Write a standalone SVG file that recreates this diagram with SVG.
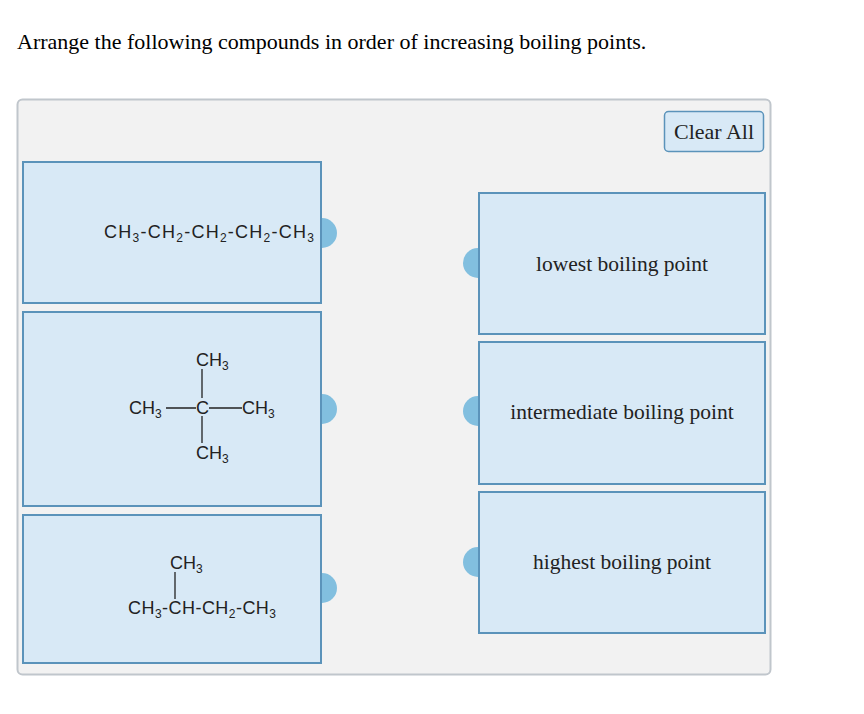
<svg xmlns="http://www.w3.org/2000/svg" width="864" height="714" viewBox="0 0 864 714">
<style>
.q{font-family:"Liberation Serif",serif;font-size:22px;fill:#000}
.lbl{font-family:"Liberation Serif",serif;font-size:21.5px;fill:#222;text-anchor:middle}
.box{fill:#d8e9f6;stroke:#5b93ba;stroke-width:2}
.ch{font-family:"Liberation Sans",sans-serif;font-size:18px;fill:#222}
.sub{font-size:12px}
.tab{fill:#82bfdf}
.bond{stroke:#222;stroke-width:1.3}
</style>
<rect width="864" height="714" fill="#fff"/>
<text class="q" x="17" y="49">Arrange the following compounds in order of increasing boiling points.</text>
<rect x="17.5" y="99.5" width="753" height="575" rx="5" fill="#f2f2f2" stroke="#c0c6cc" stroke-width="2"/>
<g id="clear"><rect x="664.5" y="111.5" width="99" height="40" rx="4" fill="#d8e9f6" stroke="#5b93ba" stroke-width="1.5"/><text class="lbl" x="714" y="139" style="font-size:22px">Clear All</text></g>
<g id="c1"><rect class="box" x="23" y="162" width="298" height="141"/>
<text class="ch" x="104" y="238" textLength="210">CH<tspan class="sub" dy="4">3</tspan><tspan dy="-4">-CH</tspan><tspan class="sub" dy="4">2</tspan><tspan dy="-4">-CH</tspan><tspan class="sub" dy="4">2</tspan><tspan dy="-4">-CH</tspan><tspan class="sub" dy="4">2</tspan><tspan dy="-4">-CH</tspan><tspan class="sub" dy="4">3</tspan></text>
<path class="tab" d="M322 218 a15 15 0 0 1 0 30z"/></g>
<g id="c2"><rect class="box" x="23" y="312" width="298" height="194"/>
<text class="ch" x="196" y="366">CH<tspan class="sub" dy="4">3</tspan></text>
<text class="ch" x="129" y="414">CH<tspan class="sub" dy="4">3</tspan></text>
<text class="ch" x="196" y="414">C</text>
<text class="ch" x="242" y="414">CH<tspan class="sub" dy="4">3</tspan></text>
<text class="ch" x="196" y="459">CH<tspan class="sub" dy="4">3</tspan></text>
<path class="bond" d="M202 369V398M202 416V443M166 408H196M209 408H242"/>
<path class="tab" d="M322 394 a15 15 0 0 1 0 30z"/></g>
<g id="c3"><rect class="box" x="23" y="515" width="298" height="148"/>
<text class="ch" x="170" y="569">CH<tspan class="sub" dy="4">3</tspan></text>
<text class="ch" x="128" y="614" textLength="148">CH<tspan class="sub" dy="4">3</tspan><tspan dy="-4">-CH-CH</tspan><tspan class="sub" dy="4">2</tspan><tspan dy="-4">-CH</tspan><tspan class="sub" dy="4">3</tspan></text>
<path class="bond" d="M175 572V599"/>
<path class="tab" d="M322 573 a15 15 0 0 1 0 30z"/></g>
<g id="r1"><rect class="box" x="479" y="193" width="286" height="141"/><text class="lbl" x="622" y="271">lowest boiling point</text>
<path class="tab" d="M478 248 a15 15 0 0 0 0 30z"/></g>
<g id="r2"><rect class="box" x="479" y="342" width="286" height="142"/><text class="lbl" x="622" y="419">intermediate boiling point</text>
<path class="tab" d="M478 396 a15 15 0 0 0 0 30z"/></g>
<g id="r3"><rect class="box" x="479" y="492" width="286" height="141"/><text class="lbl" x="622" y="569">highest boiling point</text>
<path class="tab" d="M478 547 a15 15 0 0 0 0 30z"/></g>
<g id="connectors"/>
</svg>
